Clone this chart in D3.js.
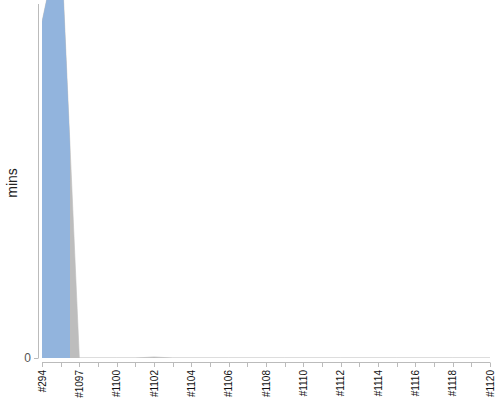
<!DOCTYPE html>
<html><head><meta charset="utf-8">
<script src="https://cdn.jsdelivr.net/npm/d3@7"></script>
<style>body{margin:0;background:#fff;} svg{display:block;font-family:"Liberation Sans",Arial,sans-serif;}</style>
</head><body>
<svg id="c" width="500" height="400"></svg>
<script>
const categories = ["#294","#1096","#1097","#1099","#1100","#1101","#1102","#1103","#1104","#1105","#1106","#1107","#1108","#1109","#1110","#1111","#1112","#1113","#1114","#1115","#1116","#1117","#1118","#1119","#1120"];
const mins = [95,120,0,0,0,0,0.3,0,0,0,0,0,0,0,0,0,0,0,0,0,0,0,0,0,0];
const yTicks = [0];
const blueZoneEnd = 1.5; // category position where the blue zone ends

const svg = d3.select("#c");
const x0 = 42, x1 = 490, yTop = 4, yBot = 358;
const idx = categories.map((d,i)=>i);
const x = d3.scaleLinear().domain([0, categories.length-1]).range([x0, x1]);
const y = d3.scaleLinear().domain([0, 100]).range([yBot, yTop]);

const defs = svg.append("defs");
defs.append("clipPath").attr("id","plot").append("rect")
  .attr("x", x0).attr("y", 0).attr("width", x1-x0).attr("height", yBot);
defs.append("clipPath").attr("id","blueZone").append("rect")
  .attr("x", x0).attr("y", 0).attr("width", x(blueZoneEnd)-x0).attr("height", yBot);

const area = d3.area().x((d,i)=>x(i)).y0(y(0)).y1(d=>y(d)).curve(d3.curveLinear);

const g = svg.append("g").attr("clip-path","url(#plot)");
g.append("path").datum(mins).attr("d", area).attr("fill","#bdbdbd")
  .attr("stroke","#bdbdbd").attr("stroke-width",0.6);
g.append("g").attr("clip-path","url(#blueZone)")
  .append("path").datum(mins).attr("d", area).attr("fill","#92b4dd");

// y axis
svg.append("line").attr("x1",38.5).attr("x2",38.5).attr("y1",yTop).attr("y2",yBot)
  .attr("stroke","#bbb");
yTicks.forEach(t=>{
  svg.append("line").attr("x1",34).attr("x2",38.5).attr("y1",y(t)+0.5).attr("y2",y(t)+0.5).attr("stroke","#bbb");
  svg.append("text").attr("x",31).attr("y",y(t)+4).attr("text-anchor","end")
    .attr("font-size",12).attr("fill","#555").text(t);
});
svg.append("text").attr("transform","translate(17,183) rotate(-90)")
  .attr("text-anchor","middle").attr("font-size",14).attr("fill","#222").text("mins");

// x axis
const xa = svg.append("g");
xa.append("line").attr("x1",x0).attr("x2",x1).attr("y1",362.5).attr("y2",362.5).attr("stroke","#bbb");
idx.forEach(i=>{
  xa.append("line").attr("x1",Math.round(x(i))+0.5).attr("x2",Math.round(x(i))+0.5)
    .attr("y1",362.5).attr("y2",367).attr("stroke","#bbb");
  if(i%2===0){
    xa.append("text").attr("transform",`translate(${x(i)+3.5},370) rotate(-90)`)
      .attr("text-anchor","end").attr("font-size",10).attr("fill","#111").text(categories[i]);
  }
});
</script>
</body></html>
